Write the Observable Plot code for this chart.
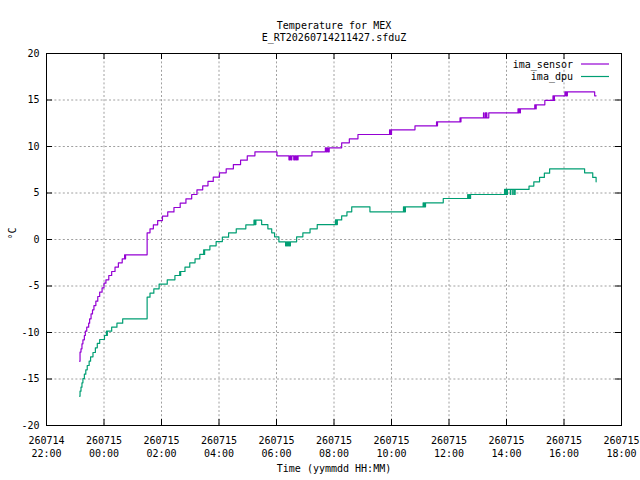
<!DOCTYPE html>
<html>
<head>
<meta charset="utf-8">
<script src="https://cdn.jsdelivr.net/npm/d3@7"></script>
<script src="https://cdn.jsdelivr.net/npm/@observablehq/plot@0.6"></script>
<style>
  html, body { margin: 0; padding: 0; background: white; }
  svg { display: block; }
</style>
</head>
<body>
<div id="chart"></div>
<script>
// ---------- data ----------
const titleLines = ["Temperature for MEX", "E_RT20260714211427.sfduZ"];
const xLabel = "Time (yymmdd HH:MM)";
const yLabel = "°C";
const yTicks = [-20, -15, -10, -5, 0, 5, 10, 15, 20];
const xTickTimes = ["22:00", "00:00", "02:00", "04:00", "06:00", "08:00", "10:00", "12:00", "14:00", "16:00", "18:00"];
const seriesNames = ["ima_sensor", "ima_dpu"];
const seriesColors = ["#9400d3", "#009e73"];

const sensorTime = ["23:09","23:10","23:12","23:14","23:16","23:19","23:21","23:24","23:28","23:30","23:33","23:36","23:39","23:43","23:47","23:51","23:56",
  "00:00","00:04","00:10","00:16","00:23","00:30","00:38","00:43","00:44","00:45","01:30","01:36","01:43","01:52","02:02","02:13","02:26","02:39","02:51",
  "03:03","03:14","03:26","03:37","03:48","04:01","04:15","04:30","04:45","04:59","05:15","06:01",
  "06:26","06:28","06:30","06:32","06:36","06:38","06:40","06:42","06:44","06:45",
  "07:14","07:42","07:44","07:46","07:48","07:50","08:16","08:32","08:50","09:56","09:58","10:00","10:49",
  "11:34","11:35","11:36","12:23","12:24","12:25","13:12","13:13","13:16","13:17","13:18","13:19","13:23",
  "14:24","14:25","14:26","14:28","14:29","14:59","15:01","15:02","15:20","15:37","15:39","15:40",
  "16:02","16:04","16:05","16:06","16:07","17:04","17:07"];
const sensorTemp = [-13.08,-12.11,-11.76,-11.22,-10.79,-10.32,-9.86,-9.43,-9.00,-8.53,-8.00,-7.56,-7.10,-6.63,-6.13,-5.66,-5.20,
  -4.70,-4.34,-3.87,-3.44,-2.98,-2.51,-2.08,-1.65,-2.08,-1.65,0.72,1.15,1.58,2.04,2.51,2.97,3.44,3.91,4.37,
  4.84,5.34,5.77,6.24,6.70,7.17,7.60,8.06,8.53,9.00,9.43,9.00,
  8.57,9.00,8.57,9.00,8.57,9.00,8.57,9.00,8.57,9.00,
  9.43,9.86,9.43,9.86,9.43,9.86,10.39,10.82,11.29,11.79,11.29,11.79,12.22,
  12.65,12.22,12.65,13.08,12.65,13.08,13.62,13.08,13.62,13.08,13.62,13.08,13.62,
  14.05,13.62,14.05,13.62,14.05,14.48,14.05,14.48,14.95,15.45,14.95,15.45,
  15.88,15.45,15.88,15.45,15.88,15.45,15.45];

const dpuTime = ["23:09","23:10","23:12","23:14","23:16","23:19","23:22","23:25","23:29","23:32","23:37","23:42","23:46","23:51",
  "00:01","00:05","00:06","00:07","00:16","00:27","00:39","01:30","01:36","01:44","01:55","02:12","02:28","02:38","02:39","02:40","02:49","02:59",
  "03:10","03:20","03:28","03:29","03:30","03:41","03:54","04:07","04:20","04:36","04:56",
  "05:13","05:14","05:15","05:16","05:17","05:29","05:42","05:50","05:56","06:05",
  "06:19","06:21","06:23","06:25","06:27","06:29","06:42","06:55","07:10","07:25",
  "08:03","08:04","08:05","08:06","08:07","08:16","08:27","08:37","09:15",
  "10:25","10:26","10:27","10:28","10:29","11:06","11:07","11:09","11:10","11:11","11:48",
  "12:39","12:40","12:42","12:43","12:45","13:56","13:57","13:58","13:59","14:00","14:01","14:02",
  "14:08","14:09","14:13","14:14","14:17","14:18","14:47","14:57","15:09","15:19","15:30","16:43","17:00","17:07"];
const dpuTemp = [-16.85,-16.31,-15.88,-15.41,-14.95,-14.48,-14.01,-13.55,-13.08,-12.62,-12.15,-11.65,-11.18,-10.75,
  -10.32,-9.86,-10.32,-9.86,-9.43,-9.00,-8.53,-6.20,-5.77,-5.30,-4.80,-4.34,-3.87,-3.44,-3.87,-3.44,-2.98,-2.51,
  -2.08,-1.61,-1.11,-1.61,-1.11,-0.68,-0.22,0.25,0.72,1.15,1.58,
  2.08,1.61,2.08,1.61,2.08,1.61,1.15,0.72,0.29,-0.25,
  -0.68,-0.25,-0.68,-0.25,-0.68,-0.25,0.29,0.72,1.15,1.61,
  2.11,1.61,2.11,1.61,2.11,2.55,2.98,3.51,2.98,
  3.51,2.98,3.51,2.98,3.51,3.94,3.51,3.94,3.51,3.94,4.41,
  4.84,4.41,4.84,4.41,4.84,5.38,4.84,5.38,4.84,5.38,4.84,5.38,
  4.84,5.38,4.84,5.38,4.84,5.38,5.74,6.20,6.67,7.13,7.60,7.17,6.67,6.20];

// ---------- helpers ----------
function T(s) {
  const [h, m] = s.split(":").map(Number);
  return new Date(Date.UTC(2026, 6, h >= 22 ? 14 : 15, h, m));
}
const sensor = sensorTime.map((t, i) => ({t: T(t), v: sensorTemp[i]}));
const dpu = dpuTime.map((t, i) => ({t: T(t), v: dpuTemp[i]}));
const xTicks = xTickTimes.map(T);
const fmtDay = d3.utcFormat("%y%m%d");
const fmtHM = d3.utcFormat("%H:%M");

const W = 640, H = 480;
const mL = 46, mR = 19, mT = 53, mB = 55;
const innerW = W - mL - mR;
const innerH = H - mT - mB;
const font = "'DejaVu Sans Mono', monospace";
const gridStyle = {stroke: "#a0a0a0", strokeOpacity: 1, strokeWidth: 1, strokeDasharray: "2,2.2"};

const legendMark = (index, scales, values, dims) => {
  const g = d3.create("svg:g").attr("font-family", font).attr("font-size", 10);
  const xr = dims.width - dims.marginRight;
  seriesNames.forEach((name, i) => {
    const y = dims.marginTop + 11 + i * 12.5;
    g.append("text").attr("x", xr - 48).attr("y", y).attr("dy", "0.35em")
      .attr("text-anchor", "end").attr("fill", "black").text(name);
    g.append("line").attr("x1", xr - 40).attr("x2", xr - 12).attr("y1", y).attr("y2", y)
      .attr("stroke", seriesColors[i]).attr("stroke-width", 1.2);
  });
  return g.node();
};

const chart = Plot.plot({
  width: W, height: H,
  marginLeft: mL, marginRight: mR, marginTop: mT, marginBottom: mB,
  style: {fontFamily: font, fontSize: "10px", background: "white", color: "black"},
  x: {type: "utc", domain: [xTicks[0], xTicks[xTicks.length - 1]]},
  y: {domain: [yTicks[0], yTicks[yTicks.length - 1]]},
  marks: [
    Plot.gridX(xTicks, gridStyle),
    Plot.gridY(yTicks, gridStyle),
    Plot.tickY(yTicks, {y: d => d, stroke: "black", insetRight: innerW - 6}),
    Plot.tickY(yTicks, {y: d => d, stroke: "black", insetLeft: innerW - 6}),
    Plot.tickX(xTicks, {x: d => d, stroke: "black", insetTop: innerH - 6}),
    Plot.tickX(xTicks, {x: d => d, stroke: "black", insetBottom: innerH - 6}),
    Plot.axisY(yTicks, {tickSize: 0, tickPadding: 7, tickFormat: d => String(d), label: null}),
    Plot.axisX(xTicks, {tickSize: 0, tickPadding: 9, lineHeight: 1.3,
      tickFormat: d => fmtDay(d) + "\n" + fmtHM(d), label: null}),
    Plot.line(sensor, {x: "t", y: "v", curve: "step-after", stroke: seriesColors[0], strokeWidth: 1.2}),
    Plot.line(dpu, {x: "t", y: "v", curve: "step-after", stroke: seriesColors[1], strokeWidth: 1.2}),
    Plot.frame({stroke: "black", strokeWidth: 1}),
    Plot.text([titleLines[0]], {text: d => d, frameAnchor: "top", dy: -32, fill: "black"}),
    Plot.text([titleLines[1]], {text: d => d, frameAnchor: "top", dy: -19.5, fill: "black"}),
    Plot.text([xLabel], {text: d => d, frameAnchor: "bottom", dy: 46, fill: "black"}),
    Plot.text([yLabel], {text: d => d, frameAnchor: "left", dx: -34, rotate: -90, fill: "black"}),
    legendMark
  ]
});
document.getElementById("chart").appendChild(chart);
</script>
</body>
</html>
